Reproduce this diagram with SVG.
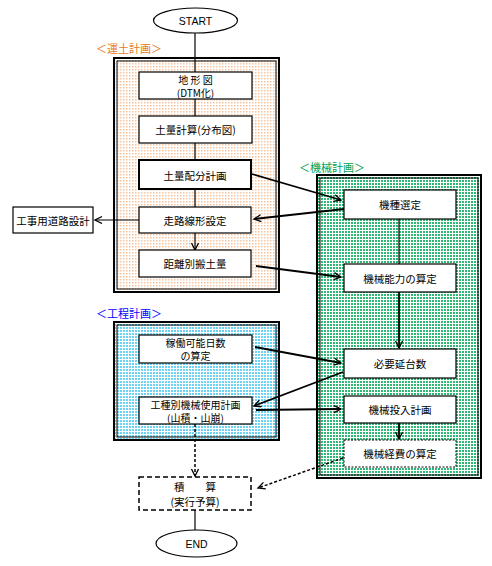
<svg xmlns="http://www.w3.org/2000/svg" width="492" height="566" viewBox="0 0 492 566">
<style>
text{font-family:"Noto Sans CJK JP","Liberation Sans",sans-serif;font-size:10.5px;fill:#000;text-anchor:middle;dominant-baseline:central}
.sm{font-size:10px}
.lat{font-family:"Liberation Sans",Arial,sans-serif;font-size:10.5px}
.box{fill:#fff;stroke:#000;stroke-width:1.2}
.frameO{stroke:#000;stroke-width:2}
.frameI{fill:none;stroke:#000;stroke-width:1}
.ln{fill:none;stroke:#000;stroke-width:1.2}
.lnb{fill:none;stroke:#000;stroke-width:1.8}
.dash{fill:none;stroke:#000;stroke-width:1.5;stroke-dasharray:3,2}
.lbl{font-size:11px;text-anchor:start}
</style>
<defs>
<pattern id="pO" width="3" height="3" patternUnits="userSpaceOnUse"><rect width="3" height="3" fill="#fff"/><rect width="1.5" height="1.5" fill="#f7c49c"/></pattern>
<pattern id="pG" width="3" height="3" patternUnits="userSpaceOnUse"><rect width="3" height="3" fill="#fff"/><rect width="2" height="2" fill="#2fb874"/></pattern>
<pattern id="pB" width="3" height="3" patternUnits="userSpaceOnUse"><rect width="3" height="3" fill="#fff"/><rect width="2" height="2" fill="#6ed2f2"/></pattern>
<marker id="ar" markerWidth="10" markerHeight="10" refX="8" refY="4" orient="auto" markerUnits="userSpaceOnUse"><path d="M1,0.5 L8,4 L1,7.5" fill="none" stroke="#000" stroke-width="1.3"/></marker>
</defs>

<g id="frame-unto">
<rect x="114" y="58" width="165" height="234" fill="url(#pO)" class="frameO"/>
<rect x="117" y="61" width="159" height="228" class="frameI"/>
<text x="96" y="48" class="lbl" style="fill:#e87a1e">＜運土計画＞</text>
</g>
<g id="frame-kikai">
<rect x="317" y="175" width="164" height="303" fill="url(#pG)" class="frameO"/>
<rect x="320" y="178" width="158" height="297" class="frameI"/>
<text x="299" y="167" class="lbl" style="fill:#00a050">＜機械計画＞</text>
</g>
<g id="frame-kotei">
<rect x="114" y="322" width="165" height="118" fill="url(#pB)" class="frameO"/>
<rect x="117" y="325" width="159" height="112" class="frameI"/>
<text x="96" y="313" class="lbl" style="fill:#0000ff">＜工程計画＞</text>
</g>

<g id="connectors">
<line x1="195" y1="33" x2="195" y2="250" class="ln" marker-end="url(#ar)"/>
<line x1="139" y1="220" x2="95" y2="220" class="ln" marker-end="url(#ar)"/>
<line x1="252" y1="174" x2="341" y2="200" class="lnb" marker-end="url(#ar)"/>
<line x1="344" y1="209" x2="254" y2="219" class="lnb" marker-end="url(#ar)"/>
<line x1="256" y1="266" x2="341" y2="277" class="lnb" marker-end="url(#ar)"/>
<line x1="399" y1="219" x2="399" y2="264" class="ln"/>
<line x1="399" y1="292" x2="399" y2="348" class="lnb" marker-end="url(#ar)"/>
<line x1="255" y1="347" x2="341" y2="363" class="lnb" marker-end="url(#ar)"/>
<line x1="343" y1="372" x2="254" y2="406" class="lnb" marker-end="url(#ar)"/>
<line x1="256" y1="410" x2="341" y2="409" class="lnb" marker-end="url(#ar)"/>
<line x1="399" y1="423" x2="399" y2="439" class="lnb" marker-end="url(#ar)"/>
<line x1="195" y1="424" x2="195" y2="476" class="dash" marker-end="url(#ar)"/>
<line x1="343" y1="458" x2="258" y2="488" class="dash" marker-end="url(#ar)"/>
<line x1="195" y1="510" x2="195" y2="530" class="ln"/>
</g>

<g id="start"><ellipse cx="195.5" cy="20.5" rx="42" ry="12.5" class="box"/><text x="195.5" y="21" class="lat">START</text></g>
<g id="chikeizu"><rect x="139" y="72" width="113" height="27" class="box"/><text x="195.5" y="79" class="sm">地 形 図</text><text x="195.5" y="92.5" class="sm">(DTM化)</text></g>
<g id="doryo-keisan"><rect x="139" y="116" width="113" height="27" class="box"/><text x="195.5" y="129.5">土量計算(分布図)</text></g>
<g id="doryo-haibun"><rect x="139" y="160" width="112" height="29" class="box" style="stroke-width:2"/><text x="195" y="175">土量配分計画</text></g>
<g id="soro"><rect x="139" y="207" width="112" height="26" class="box"/><text x="195" y="220">走路線形設定</text></g>
<g id="kyori"><rect x="139" y="250" width="112" height="27" class="box"/><text x="195" y="263.5">距離別搬土量</text></g>
<g id="koji-doro"><rect x="13" y="207" width="80" height="26" class="box"/><text x="53" y="220">工事用道路設計</text></g>
<g id="kishu"><rect x="344" y="190" width="112" height="29" class="box"/><text x="400" y="204.5">機種選定</text></g>
<g id="noryoku"><rect x="344" y="264" width="112" height="28" class="box"/><text x="400" y="278">機械能力の算定</text></g>
<g id="hitsuyo"><rect x="344" y="349" width="112" height="29" class="box"/><text x="400" y="363.5">必要延台数</text></g>
<g id="tonyu"><rect x="344" y="396" width="112" height="27" class="box"/><text x="400" y="409.5">機械投入計画</text></g>
<g id="keihi"><rect x="344" y="440" width="112" height="27" fill="#fff" stroke="#000" stroke-width="1" stroke-dasharray="2,1.5"/><text x="400" y="453.5">機械経費の算定</text></g>
<g id="kado"><rect x="139" y="335" width="113" height="28" class="box"/><text x="195.5" y="342" class="sm">稼働可能日数</text><text x="195.5" y="355.5" class="sm">の算定</text></g>
<g id="koshu"><rect x="139" y="397" width="113" height="27" class="box"/><text x="195.5" y="404" class="sm">工種別機械使用計画</text><text x="195.5" y="417.5" class="sm">(山積・山崩)</text></g>
<g id="sekisan"><rect x="139" y="477" width="112" height="33" fill="#fff" stroke="#000" stroke-width="1.5" stroke-dasharray="5,3"/><text x="195" y="486.5">積　　算</text><text x="195" y="501">(実行予算)</text></g>
<g id="end"><ellipse cx="196.5" cy="543.5" rx="40.5" ry="13.5" class="box"/><text x="196.5" y="544" class="lat">END</text></g>
</svg>
